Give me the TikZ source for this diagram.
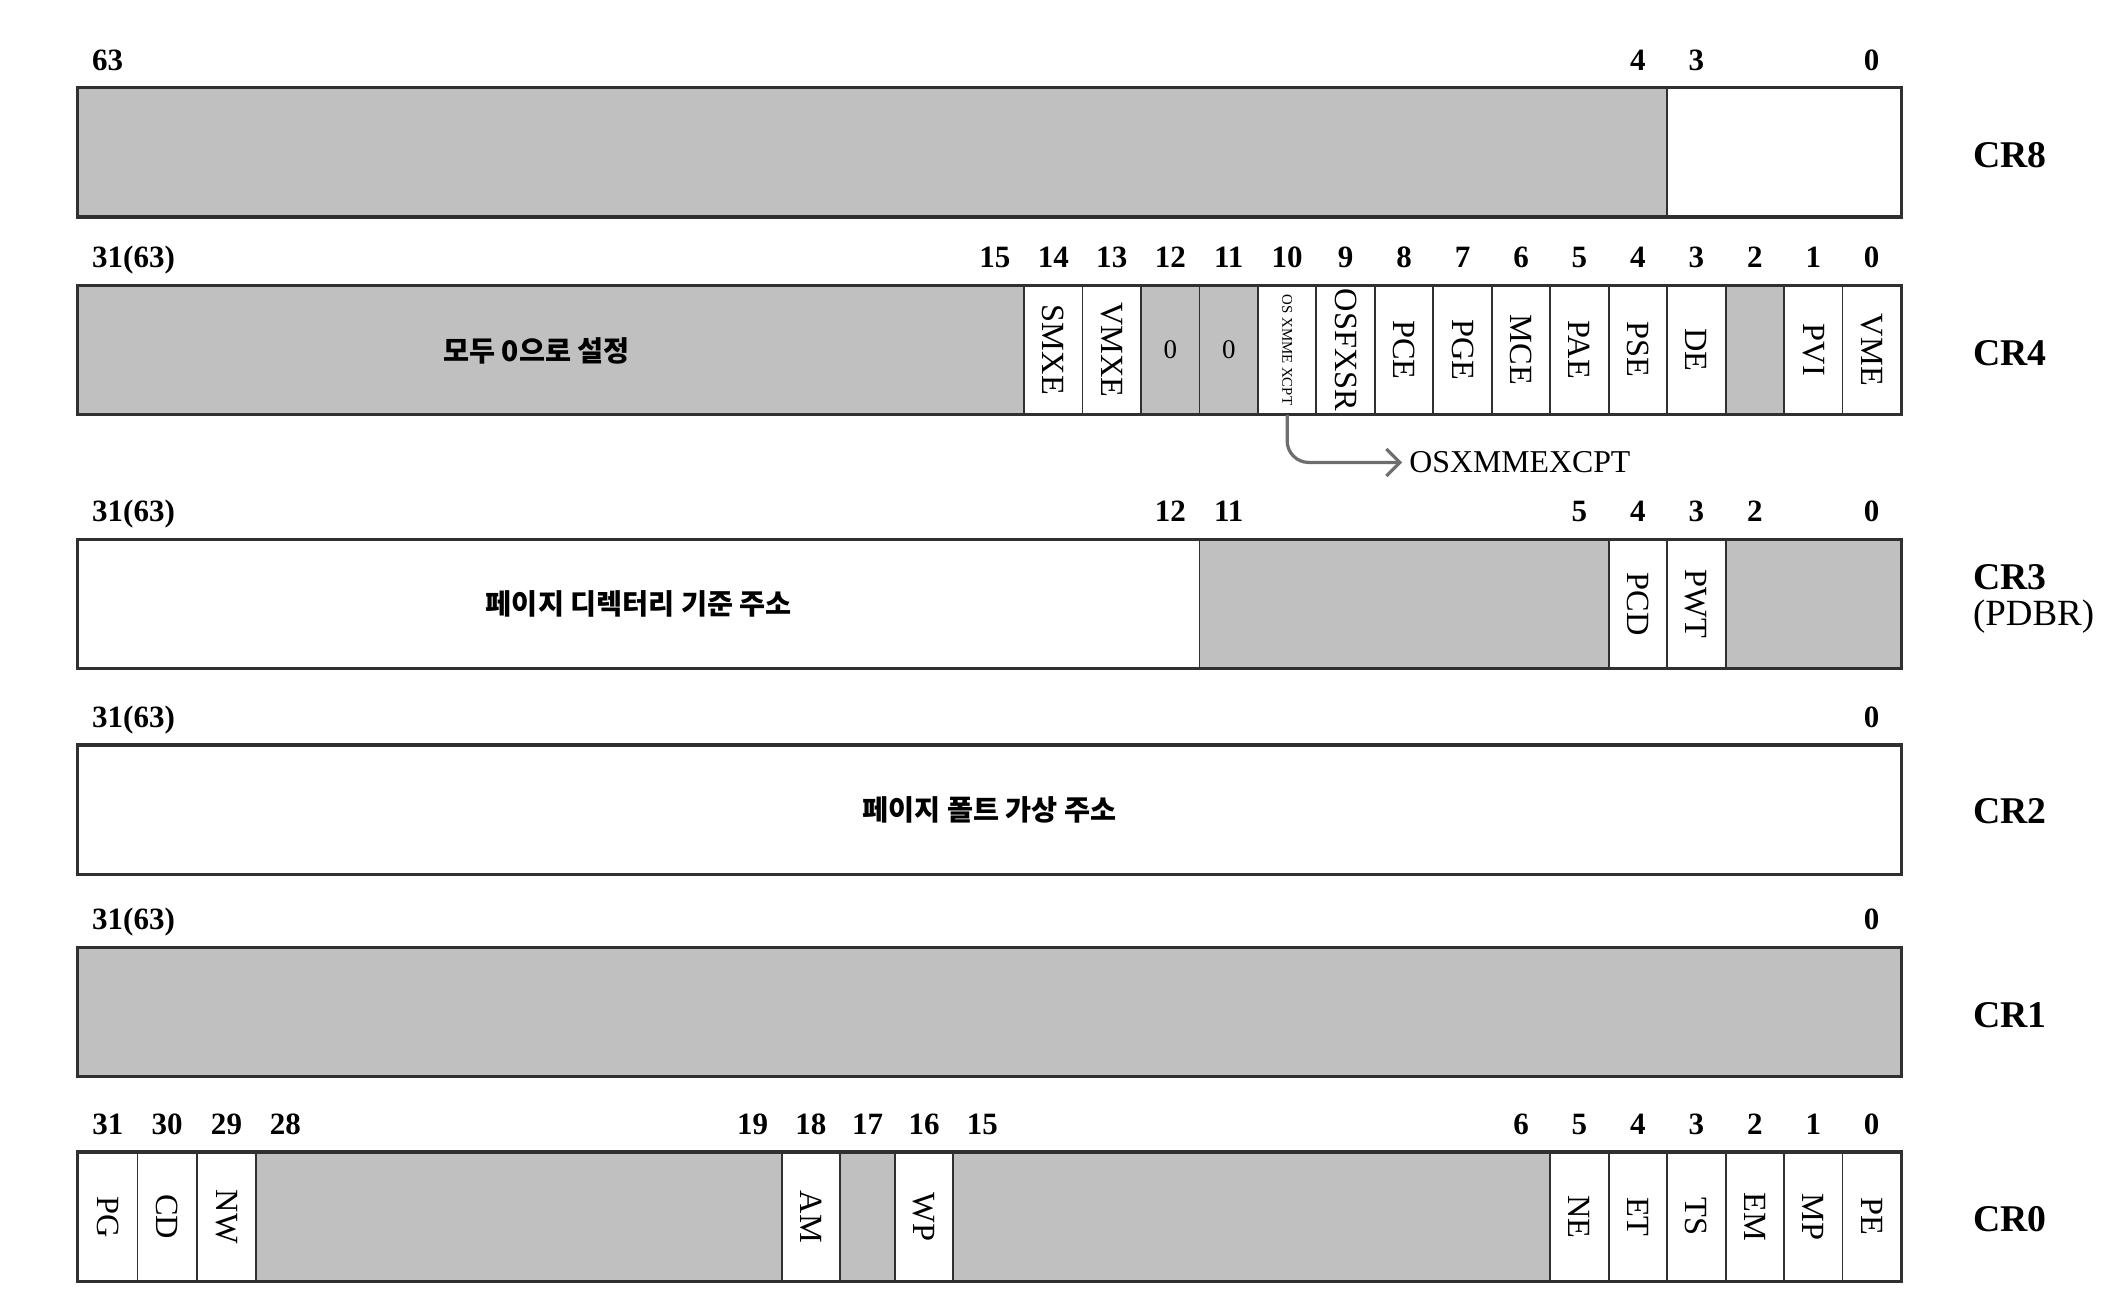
\documentclass[tikz,border=0pt]{standalone}
\usepackage{fontspec}
\setmainfont{Liberation Serif}
\newfontfamily\kor{Noto Sans CJK KR}
\usetikzlibrary{arrows.meta}
\definecolor{regfill}{HTML}{C0C0C0}
\definecolor{regline}{HTML}{303030}
\definecolor{callout}{HTML}{6E6E6E}
\tikzset{b/.style={font=\bfseries\fontsize{11.5}{11.5}\selectfont,inner sep=0pt,anchor=base}}
\tikzset{r/.style={font=\bfseries\fontsize{14}{14}\selectfont,inner sep=0pt,anchor=west}}
\tikzset{w/.style={draw=regline,fill=white,line width=0.7pt,minimum width=21.68pt,minimum height=47.5pt,inner sep=0pt,font=\fontsize{12}{12}\selectfont}}
\tikzset{g/.style={w,fill=regfill}}
\tikzset{k/.style={font=\kor\bfseries\fontsize{10.5}{10.5}\selectfont}}
\tikzset{frame/.style={draw=regline,line width=1pt}}

\begin{document}
\begin{tikzpicture}[x=0.5pt,y=-0.5pt]
  \useasboundingbox (0,0) rectangle (1568,974.6);
  % CR8
  \node[g,minimum width=589.3pt] (cr8-hi) at (647.3,113) {};
  \node[w,minimum width=86.7pt] (cr8-lo) at (1323.3,113) {};
  \draw[frame] (cr8-hi.north west) rectangle (cr8-lo.south east);
  \node[b,anchor=base west] (n8-63) at (68,52.5) {63};
  \node[b] (n8-4) at (1214.9,52.5) {4};
  \node[b] (n8-3) at (1258.2,52.5) {3};
  \node[b] (n8-0) at (1388.3,52.5) {0};
  \node[r] (cr8) at (1463,115) {CR8};
  % CR4
  \node[g,minimum width=350.8pt] (cr4-hi) at (408.8,259.5) {};
  \node[k] (cr4-txt) at (398,260) {모두 0으로 설정};
  \node[w] (cr4-14) at (781.3,259.5) {\rotatebox{-90}{SMXE}};
  \node[w] (cr4-13) at (824.6,259.5) {\rotatebox{-90}{VMXE}};
  \node[g] (cr4-12) at (868.0,259.5) {\fontsize{10}{10}\selectfont 0};
  \node[g] (cr4-11) at (911.4,259.5) {\fontsize{10}{10}\selectfont 0};
  \node[w] (cr4-10) at (954.7,259.5) {\rotatebox{-90}{\fontsize{5.5}{5.5}\selectfont OS XMME XCPT}};
  \node[w] (cr4-9) at (998.1,259.5) {\rotatebox{-90}{OSFXSR}};
  \node[w] (cr4-8) at (1041.4,259.5) {\rotatebox{-90}{PCE}};
  \node[w] (cr4-7) at (1084.8,259.5) {\rotatebox{-90}{PGE}};
  \node[w] (cr4-6) at (1128.2,259.5) {\rotatebox{-90}{MCE}};
  \node[w] (cr4-5) at (1171.5,259.5) {\rotatebox{-90}{PAE}};
  \node[w] (cr4-4) at (1214.9,259.5) {\rotatebox{-90}{PSE}};
  \node[w] (cr4-3) at (1258.2,259.5) {\rotatebox{-90}{DE}};
  \node[g] (cr4-2) at (1301.6,259.5) {};
  \node[w] (cr4-1) at (1345.0,259.5) {\rotatebox{-90}{PVI}};
  \node[w] (cr4-0) at (1388.3,259.5) {\rotatebox{-90}{VME}};
  \draw[frame] (cr4-hi.north west) rectangle (cr4-0.south east);
  \node[b,anchor=base west] (n4-31) at (68,198.5) {31(63)};
  \node[b] (n4-15) at (737.9,198.5) {15};
  \node[b] (n4-14) at (781.3,198.5) {14};
  \node[b] (n4-13) at (824.6,198.5) {13};
  \node[b] (n4-12) at (868.0,198.5) {12};
  \node[b] (n4-11) at (911.4,198.5) {11};
  \node[b] (n4-10) at (954.7,198.5) {10};
  \node[b] (n4-9) at (998.1,198.5) {9};
  \node[b] (n4-8) at (1041.4,198.5) {8};
  \node[b] (n4-7) at (1084.8,198.5) {7};
  \node[b] (n4-6) at (1128.2,198.5) {6};
  \node[b] (n4-5) at (1171.5,198.5) {5};
  \node[b] (n4-4) at (1214.9,198.5) {4};
  \node[b] (n4-3) at (1258.2,198.5) {3};
  \node[b] (n4-2) at (1301.6,198.5) {2};
  \node[b] (n4-1) at (1345.0,198.5) {1};
  \node[b] (n4-0) at (1388.3,198.5) {0};
  \node[r] (cr4) at (1463,262) {CR4};
  \node[anchor=west,inner sep=2.5pt,font=\fontsize{11.8}{11.8}\selectfont] (osx) at (1040,343) {OSXMMEXCPT};
  \draw[-{Straight Barb[length=5pt,width=10pt]},callout,line width=1.2pt,rounded corners=8pt] (cr4-10.south) |- (osx.west);
  % CR3
  \node[w,k,minimum width=415.85pt] (cr3-hi) at (473.9,448) {페이지 디렉터리 기준 주소};
  \node[g,minimum width=151.75pt] (cr3-mid) at (1041.4,448) {};
  \node[w] (cr3-4) at (1214.9,448) {\rotatebox{-90}{PCD}};
  \node[w] (cr3-3) at (1258.2,448) {\rotatebox{-90}{PWT}};
  \node[g,minimum width=65.04pt] (cr3-lo) at (1345.0,448) {};
  \draw[frame] (cr3-hi.north west) rectangle (cr3-lo.south east);
  \node[b,anchor=base west] (n3-31) at (68,386.5) {31(63)};
  \node[b] (n3-12) at (868.0,386.5) {12};
  \node[b] (n3-11) at (911.4,386.5) {11};
  \node[b] (n3-5) at (1171.5,386.5) {5};
  \node[b] (n3-4) at (1214.9,386.5) {4};
  \node[b] (n3-3) at (1258.2,386.5) {3};
  \node[b] (n3-2) at (1301.6,386.5) {2};
  \node[b] (n3-0) at (1388.3,386.5) {0};
  \node[r] (cr3) at (1463,428) {CR3};
  \node[r,font=\fontsize{13.7}{13.7}\selectfont] (pdbr) at (1463,457) {(PDBR)};
  % CR2
  \node[w,k,minimum width=676pt] (cr2-all) at (734,600.5) {페이지 폴트 가상 주소};
  \draw[frame] (cr2-all.north west) rectangle (cr2-all.south east);
  \node[b,anchor=base west] (n2-31) at (68,539.5) {31(63)};
  \node[b] (n2-0) at (1388.3,539.5) {0};
  \node[r] (cr2) at (1463,602) {CR2};
  % CR1
  \node[g,minimum width=676pt] (cr1-all) at (734,750.5) {};
  \draw[frame] (cr1-all.north west) rectangle (cr1-all.south east);
  \node[b,anchor=base west] (n1-31) at (68,689.5) {31(63)};
  \node[b] (n1-0) at (1388.3,689.5) {0};
  \node[r] (cr1) at (1463,753) {CR1};
  % CR0
  \node[w,minimum width=22pt] (cr0-31) at (80,902.5) {\rotatebox{-90}{PG}};
  \node[w,minimum width=22pt] (cr0-30) at (124,902.5) {\rotatebox{-90}{CD}};
  \node[w,minimum width=22pt] (cr0-29) at (168,902.5) {\rotatebox{-90}{NW}};
  \node[g,minimum width=195pt] (cr0-28) at (385,902.5) {};
  \node[w,minimum width=21.5pt] (cr0-18) at (601.5,902.5) {\rotatebox{-90}{AM}};
  \node[g,minimum width=20.5pt] (cr0-17) at (643.5,902.5) {};
  \node[w,minimum width=21.5pt] (cr0-16) at (685.5,902.5) {\rotatebox{-90}{WP}};
  \node[g,minimum width=221.4pt] (cr0-15) at (928.4,902.5) {};
  \node[w] (cr0-5) at (1171.5,902.5) {\rotatebox{-90}{NE}};
  \node[w] (cr0-4) at (1214.9,902.5) {\rotatebox{-90}{ET}};
  \node[w] (cr0-3) at (1258.2,902.5) {\rotatebox{-90}{TS}};
  \node[w] (cr0-2) at (1301.6,902.5) {\rotatebox{-90}{EM}};
  \node[w] (cr0-1) at (1345.0,902.5) {\rotatebox{-90}{MP}};
  \node[w] (cr0-0) at (1388.3,902.5) {\rotatebox{-90}{PE}};
  \draw[frame] (cr0-31.north west) rectangle (cr0-0.south east);
  \node[b] (n0-31) at (80,841.5) {31};
  \node[b] (n0-30) at (124,841.5) {30};
  \node[b] (n0-29) at (168,841.5) {29};
  \node[b] (n0-28) at (211.7,841.5) {28};
  \node[b] (n0-19) at (558.3,841.5) {19};
  \node[b] (n0-18) at (601.5,841.5) {18};
  \node[b] (n0-17) at (643.5,841.5) {17};
  \node[b] (n0-16) at (685.5,841.5) {16};
  \node[b] (n0-15) at (728.7,841.5) {15};
  \node[b] (n0-6) at (1128.2,841.5) {6};
  \node[b] (n0-5) at (1171.5,841.5) {5};
  \node[b] (n0-4) at (1214.9,841.5) {4};
  \node[b] (n0-3) at (1258.2,841.5) {3};
  \node[b] (n0-2) at (1301.6,841.5) {2};
  \node[b] (n0-1) at (1345.0,841.5) {1};
  \node[b] (n0-0) at (1388.3,841.5) {0};
  \node[r] (cr0) at (1463,904) {CR0};
\end{tikzpicture}
\end{document}
